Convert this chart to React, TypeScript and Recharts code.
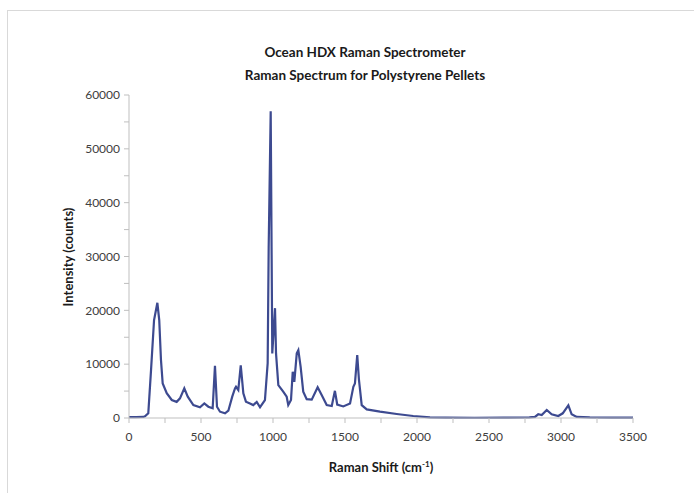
import React from 'react';
import { LineChart, Line, XAxis, YAxis } from 'recharts';

const shift = [0, 50, 100, 111, 134, 153, 174, 197, 210, 222, 234, 262, 297, 331, 354, 384, 408, 447, 493, 523, 551, 581, 597, 611, 632, 667, 690, 717, 736, 743, 759, 776, 794, 812, 840, 863, 887, 910, 944, 963, 970, 984, 995, 1014, 1021, 1037, 1071, 1095, 1106, 1125, 1137, 1148, 1165, 1176, 1192, 1210, 1234, 1269, 1310, 1338, 1373, 1408, 1430, 1446, 1488, 1535, 1558, 1569, 1585, 1597, 1616, 1651, 1743, 1859, 1974, 2090, 2200, 2400, 2600, 2780, 2819, 2842, 2866, 2901, 2935, 2981, 3012, 3051, 3074, 3109, 3200, 3350, 3500];
const intensity = [150, 150, 200, 300, 870, 8900, 18200, 21400, 18200, 10800, 6400, 4600, 3340, 3000, 3650, 5500, 3960, 2400, 2000, 2700, 2100, 1800, 9700, 2100, 1170, 870, 1360, 3960, 5500, 5800, 5200, 9800, 4600, 3030, 2700, 2400, 3000, 2000, 3300, 10200, 31800, 57000, 12000, 20400, 12000, 6100, 4900, 3960, 2400, 3340, 8600, 6700, 12000, 12600, 9500, 4900, 3500, 3400, 5700, 4270, 2400, 2230, 5050, 2500, 2150, 2700, 5800, 6400, 11700, 7060, 2400, 1600, 1170, 740, 370, 120, 60, 50, 60, 100, 200, 690, 540, 1490, 690, 370, 870, 2360, 690, 200, 100, 80, 80];

const xTicks = [0, 250, 500, 750, 1000, 1250, 1500, 1750, 2000, 2250, 2500, 2750, 3000, 3250, 3500];
const yTicks = [0, 5000, 10000, 15000, 20000, 25000, 30000, 35000, 40000, 45000, 50000, 55000, 60000];

const titleLines = ['Ocean HDX Raman Spectrometer', 'Raman Spectrum for Polystyrene Pellets'];

const data = shift.map((x, i) => ({ x, y: intensity[i] }));

const FONT = 'Lato, "Open Sans", sans-serif';

export default function App() {
  return (
    <div style={{ position: 'absolute', left: 0, top: 0, width: 694, height: 493, overflow: 'hidden', background: '#fff', fontFamily: FONT }}>
      <div style={{ position: 'absolute', left: 7, top: 10, width: 760, height: 560, border: '1px solid #D9D9D9' }} />
      <div style={{ position: 'absolute', left: 0, width: 730, top: 41, textAlign: 'center', fontWeight: 700, fontSize: 13.5, color: '#1a1a1a', lineHeight: '23px' }}>
        <div>{titleLines[0]}</div>
        <div>{titleLines[1]}</div>
      </div>
      <div style={{ position: 'absolute', left: 68, top: 257, transform: 'translate(-50%, -50%) rotate(-90deg)', whiteSpace: 'nowrap', fontWeight: 700, fontSize: 13, color: '#1a1a1a' }}>
        Intensity (counts)
      </div>
      <div style={{ position: 'absolute', left: 381, top: 467, transform: 'translate(-50%, -50%)', whiteSpace: 'nowrap', fontWeight: 700, fontSize: 13, color: '#1a1a1a' }}>
        Raman Shift (cm<sup style={{ fontSize: 8 }}>-1</sup>)
      </div>
      <div style={{ position: 'absolute', left: 0, top: 0 }}>
        <LineChart width={694} height={493} data={data} margin={{ top: 95, right: 61, bottom: 50, left: 69 }}>
          <XAxis
            dataKey="x"
            type="number"
            domain={[0, 3500]}
            ticks={xTicks}
            interval={0}
            height={25}
            tickSize={5}
            tickMargin={9}
            tickFormatter={(v: number) => (v % 500 === 0 ? String(v) : '')}
            stroke="#BFBFBF"
            tick={{ fill: '#404040', fontSize: 12, fontFamily: FONT }}
          />
          <YAxis
            type="number"
            domain={[0, 60000]}
            ticks={yTicks}
            interval={0}
            width={60}
            tickSize={5}
            tickMargin={4}
            tickFormatter={(v: number) => (v % 10000 === 0 ? String(v) : '')}
            stroke="#BFBFBF"
            tick={{ fill: '#404040', fontSize: 12, fontFamily: FONT }}
          />
          <Line type="linear" dataKey="y" stroke="#3D4A90" strokeWidth={2.2} dot={false} isAnimationActive={false} />
        </LineChart>
      </div>
    </div>
  );
}
